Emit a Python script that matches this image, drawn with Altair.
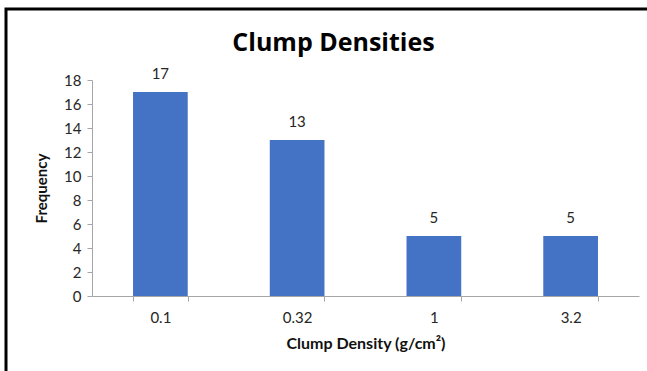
import altair as alt
import pandas as pd

categories = ["0.1", "0.32", "1", "3.2"]
frequencies = [17, 13, 5, 5]
y_ticks = [0, 2, 4, 6, 8, 10, 12, 14, 16, 18]

df = pd.DataFrame({"density": categories, "freq": frequencies})

FONT = "Lato"

x_enc = alt.X("density:N", sort=categories,
              scale=alt.Scale(paddingInner=0.6, paddingOuter=0.3),
              axis=alt.Axis(title="Clump Density (g/cm²)", labelAngle=0,
                            tickBand="extent", tickSize=5, labelPadding=9,
                            titlePadding=10, domainColor="#a6a6a6", tickColor="#a6a6a6",
                            labelFontSize=15, titleFontSize=16, labelFont=FONT,
                            titleFont=FONT, titleFontWeight="bold",
                            labelColor="#262626", titleColor="#111111"))
y_enc = alt.Y("freq:Q", scale=alt.Scale(domain=[0, 18]),
              axis=alt.Axis(title="Frequency", values=y_ticks, grid=False,
                            labelOverlap=False, tickCount=10,
                            tickSize=5, labelPadding=6, titlePadding=14,
                            domainColor="#a6a6a6", tickColor="#a6a6a6",
                            labelFontSize=15, titleFontSize=15, labelFont=FONT,
                            titleFont=FONT, titleFontWeight="bold",
                            labelColor="#262626", titleColor="#111111"))

bars = alt.Chart(df).mark_bar(color="#4472C4").encode(x=x_enc, y=y_enc)
labels = alt.Chart(df).mark_text(dy=-10, baseline="bottom", fontSize=15, font=FONT,
                                 color="#262626").encode(
    x=x_enc, y=y_enc, text="freq:Q")

frame = alt.Chart(pd.DataFrame({"k": [0]})).mark_rect(
    fill=None, stroke="#000000", strokeWidth=3).encode(
    x=alt.value(-86), x2=alt.value(560), y=alt.value(-71), y2=alt.value(300))

chart = alt.layer(frame, bars, labels).properties(
    width=547, height=216,
    title=alt.TitleParams("Clump Densities", font="Open Sans", fontSize=25, fontWeight="bold",
                          color="#000000", dx=-32, offset=-48),
    padding={"left": 92, "top": 80, "right": 8, "bottom": 75},
    autosize=alt.AutoSizeParams(type="none"),
).configure_view(stroke=None)

chart.save("out.html", embed_options={"renderer": "svg", "actions": False})
